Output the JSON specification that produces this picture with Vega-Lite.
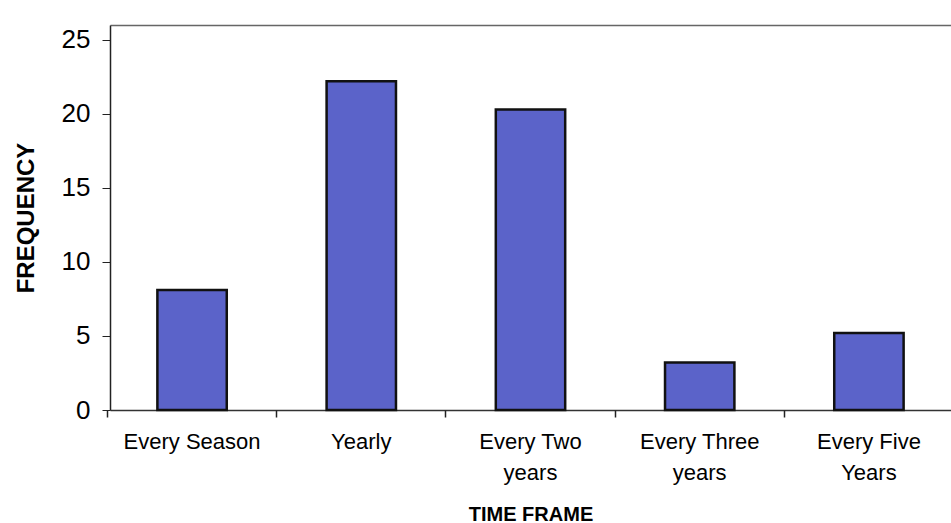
{
  "$schema": "https://vega.github.io/schema/vega-lite/v6.json",
  "autosize": {"type": "none"},
  "padding": {"left": 110, "top": 25, "right": 0, "bottom": 113},
  "width": 841,
  "height": 385,
  "background": "white",
  "config": {
    "view": {"stroke": null},
    "font": "Liberation Sans"
  },
  "data": {
    "values": [
      {"frame": "Every Season", "frequency": 8.1},
      {"frame": "Yearly", "frequency": 22.2},
      {"frame": "Every Two\nyears", "frequency": 20.3},
      {"frame": "Every Three\nyears", "frequency": 3.2},
      {"frame": "Every Five\nYears", "frequency": 5.2}
    ]
  },
  "layer": [
    {
      "mark": {"type": "bar", "fill": "#5b63c9", "stroke": "#111111", "strokeWidth": 2.5},
      "encoding": {
        "x": {
          "field": "frame", "type": "nominal", "sort": null,
          "scale": {"paddingInner": 0.59, "paddingOuter": 0.28},
          "axis": {
            "orient": "bottom",
            "title": "TIME FRAME",
            "titleFont": "Liberation Sans", "titleFontSize": 20, "titleFontWeight": "bold", "titleColor": "#000",
            "titlePadding": 21,
            "labelAngle": 0,
            "labelExpr": "split(datum.label, '\\n')",
            "labelFont": "Liberation Sans", "labelFontSize": 22, "labelColor": "#000",
            "labelLineHeight": 31, "labelPadding": 21,
            "ticks": false,
            "domainColor": "#333", "domainWidth": 1.5
          }
        },
        "y": {
          "field": "frequency", "type": "quantitative",
          "scale": {"domain": [0, 25]},
          "axis": {
            "values": [0, 5, 10, 15, 20, 25],
            "title": "FREQUENCY",
            "titleFont": "Liberation Sans", "titleFontSize": 24, "titleFontWeight": "bold", "titleColor": "#000",
            "titlePadding": 23,
            "labelFont": "Liberation Sans", "labelFontSize": 26, "labelColor": "#000",
            "labelPadding": 12, "tickSize": 8, "tickColor": "#222",
            "domainColor": "#222", "domainWidth": 1.5,
            "grid": false
          }
        }
      }
    },
    {
      "mark": {"type": "bar", "opacity": 0},
      "encoding": {
        "x": {
          "field": "frame", "type": "nominal", "sort": null,
          "axis": {"orient": "bottom", "title": null, "labels": false, "domain": false, "bandPosition": -0.72, "tickSize": 7, "tickWidth": 1.5, "tickColor": "#222"}
        },
        "y": {"field": "frequency", "type": "quantitative"}
      }
    },
    {
      "mark": {"type": "bar", "opacity": 0},
      "encoding": {
        "x": {
          "field": "frame", "type": "nominal", "sort": null,
          "axis": {"orient": "top", "title": null, "labels": false, "ticks": false, "domainColor": "#666", "domainWidth": 1.5}
        },
        "y": {"field": "frequency", "type": "quantitative"}
      }
    }
  ],
  "resolve": {"axis": {"x": "independent"}}
}
